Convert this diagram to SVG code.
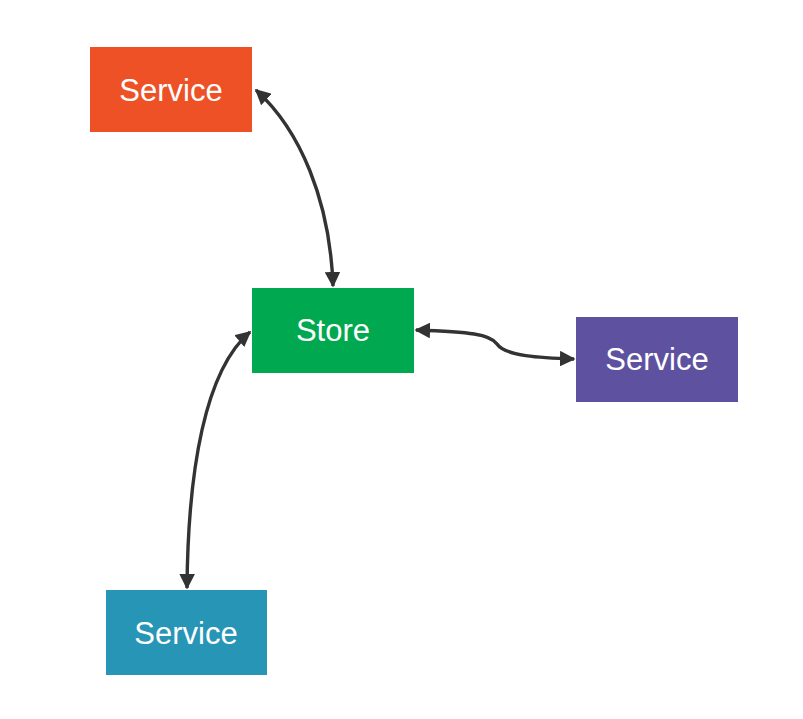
<svg xmlns="http://www.w3.org/2000/svg" width="803" height="719" viewBox="0 0 803 719">
<style>
.lbl{font-family:"Liberation Sans",Arial,sans-serif;font-size:31px;fill:#ffffff;text-anchor:middle;dominant-baseline:central}
.conn{fill:none;stroke:#333333;stroke-width:3.4;marker-start:url(#ah);marker-end:url(#ah)}
</style>
<defs>
<marker id="ah" viewBox="0 0 10 10" refX="9" refY="5" markerWidth="4.6" markerHeight="4.6" orient="auto-start-reverse" markerUnits="strokeWidth">
<path d="M0,0 L10,5 L0,10 z" fill="#333333"/>
</marker>
</defs>
<rect width="803" height="719" fill="#ffffff"/>
<g id="connectors">
<path class="conn" d="M256,90 C300,130 330,200 333,286"/>
<path class="conn" d="M416,330 C470,332 490,334 497,344 C505,356 540,358 574,359"/>
<path class="conn" d="M250,332 C205,370 188,470 187,588"/>
</g>
<g id="service-top">
<rect x="90" y="47" width="162" height="85" fill="#EE5125"/>
<text class="lbl" x="171" y="90">Service</text>
</g>
<g id="store">
<rect x="252" y="288" width="162" height="85" fill="#00A84F"/>
<text class="lbl" x="333" y="330">Store</text>
</g>
<g id="service-right">
<rect x="576" y="317" width="162" height="85" fill="#5D51A0"/>
<text class="lbl" x="657" y="359">Service</text>
</g>
<g id="service-bottom">
<rect x="106" y="590" width="161" height="85" fill="#2795B6"/>
<text class="lbl" x="186" y="633">Service</text>
</g>
</svg>
